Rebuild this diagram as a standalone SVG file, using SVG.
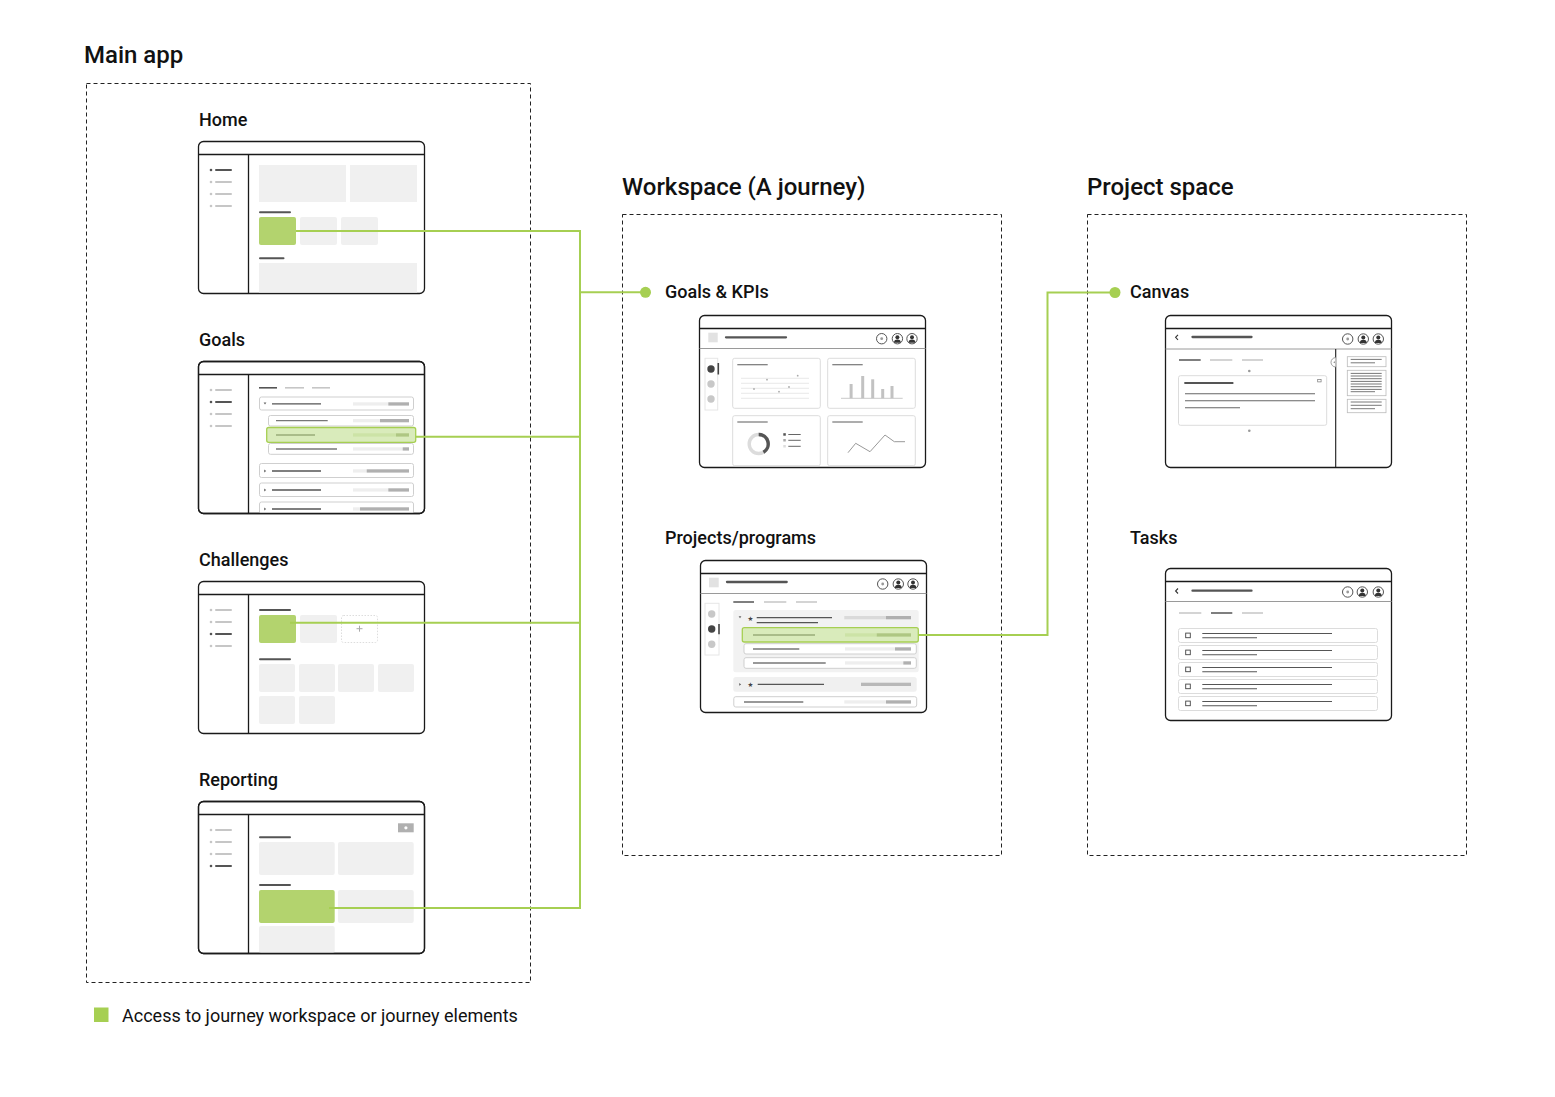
<svg xmlns="http://www.w3.org/2000/svg" width="1555" height="1097" viewBox="0 0 1555 1097">
<style>
.t{font-family:Roboto,"Liberation Sans",sans-serif;fill:#111}
.title{font-size:24px;font-weight:500}
.lbl{font-size:18px;font-weight:500}
.leg{font-size:18px;font-weight:400}
.box{fill:none;stroke:#222;stroke-width:1;stroke-dasharray:4 3}
.frame{fill:#fff;stroke:#1a1a1a;stroke-width:1.3}
.fl{stroke:#1a1a1a;stroke-width:1.3;fill:none}
.tb{stroke:#9a9a9a;stroke-width:1;fill:none}
.dl{stroke:#555;stroke-width:2;stroke-linecap:round}
.ll{stroke:#c6c6c6;stroke-width:2;stroke-linecap:round}
.ml{stroke:#777;stroke-width:1.5}
.gf{fill:#f0f0f0}
.green{fill:#b3d36e}
.row{fill:#fff;stroke:#cfcfcf;stroke-width:1}
.card{fill:#fff;stroke:#dcdcdc;stroke-width:1}
.conn{fill:none;stroke:#a6cf52;stroke-width:2}
.dot{fill:#a6cf52}
.bl{fill:#eee}
.bd{fill:#b0b0b0}
.thin{stroke:#555;stroke-width:1}
</style>
<defs>
<g id="icoDot"><circle r="5.2" fill="#fff" stroke="#555" stroke-width="1"/><circle r="1.4" fill="#999"/></g>
<g id="icoUser"><circle r="5.2" fill="#fff" stroke="#555" stroke-width="1"/><circle cy="-1.5" r="2" fill="#333"/><path d="M-3.4 4 A3.4 3.2 0 0 1 3.4 4 Z" fill="#333"/></g>
</defs>

<!-- Containers -->
<g id="main-app">
<text class="t title" x="84" y="63">Main app</text>
<rect class="box" x="86.5" y="83.5" width="444" height="899"/>
</g>
<g id="workspace">
<text class="t title" x="622" y="195">Workspace (A journey)</text>
<rect class="box" x="622.5" y="214.5" width="379" height="641"/>
</g>
<g id="project-space">
<text class="t title" x="1087" y="195">Project space</text>
<rect class="box" x="1087.5" y="214.5" width="379" height="641"/>
</g>

<!-- Home -->
<g id="home">
<text class="t lbl" x="199" y="126">Home</text>
<rect class="frame" x="198.5" y="141.5" width="226" height="152" rx="5"/>
<path class="fl" d="M198.5 154.5H424.5M248.5 154.5V293.5"/>
<circle cx="211" cy="170" r="1.3" fill="#555"/><line class="dl" x1="216" y1="170" x2="231" y2="170"/>
<circle cx="211" cy="182" r="1.3" fill="#c6c6c6"/><line class="ll" x1="216" y1="182" x2="231" y2="182"/>
<circle cx="211" cy="194" r="1.3" fill="#c6c6c6"/><line class="ll" x1="216" y1="194" x2="231" y2="194"/>
<circle cx="211" cy="206" r="1.3" fill="#c6c6c6"/><line class="ll" x1="216" y1="206" x2="231" y2="206"/>
<rect class="gf" x="259" y="165" width="87" height="37"/>
<rect class="gf" x="350" y="165" width="67" height="37"/>
<line class="dl" x1="260" y1="212.3" x2="290" y2="212.3"/>
<rect class="green" x="259" y="217" width="37" height="28" rx="2"/>
<rect class="gf" x="300" y="217" width="37" height="28" rx="2"/>
<rect class="gf" x="341" y="217" width="37" height="28" rx="2"/>
<line class="dl" x1="260" y1="258.3" x2="283.5" y2="258.3"/>
<rect class="gf" x="259" y="263" width="158" height="29.5"/>
</g>

<!-- Goals -->
<g id="goals">
<text class="t lbl" x="199" y="346">Goals</text>
<rect class="frame" x="198.5" y="361.5" width="226" height="152" rx="5"/>
<circle cx="211" cy="390" r="1.3" fill="#c6c6c6"/><line class="ll" x1="216" y1="390" x2="231" y2="390"/>
<circle cx="211" cy="402" r="1.3" fill="#555"/><line class="dl" x1="216" y1="402" x2="231" y2="402"/>
<circle cx="211" cy="414" r="1.3" fill="#c6c6c6"/><line class="ll" x1="216" y1="414" x2="231" y2="414"/>
<circle cx="211" cy="426" r="1.3" fill="#c6c6c6"/><line class="ll" x1="216" y1="426" x2="231" y2="426"/>
<line x1="259" y1="387.8" x2="277" y2="387.8" stroke="#555" stroke-width="1.6"/>
<line x1="285" y1="387.8" x2="304" y2="387.8" stroke="#c6c6c6" stroke-width="1.6"/>
<line x1="312" y1="387.8" x2="330" y2="387.8" stroke="#c6c6c6" stroke-width="1.6"/>
<rect class="row" x="259.5" y="397" width="154" height="13" rx="2"/>
<polygon points="263.6,402.6 266.4,402.6 265,404.6" fill="#666"/>
<line x1="272" y1="403.9" x2="321" y2="403.9" stroke="#555" stroke-width="1.3"/>
<rect class="bl" x="353" y="402.3" width="35.3" height="3.3"/><rect class="bd" x="388.3" y="402.3" width="20.7" height="3.3"/>
<rect class="row" x="268.5" y="415.5" width="145" height="10.5" rx="2"/>
<line x1="276" y1="420.7" x2="327.7" y2="420.7" stroke="#777" stroke-width="1.3"/>
<rect class="bl" x="353" y="419" width="27" height="3.3"/><rect class="bd" x="380" y="419" width="29" height="3.3"/>
<rect class="row" x="268.5" y="443.5" width="145" height="10.8" rx="2"/>
<line x1="276" y1="449" x2="337" y2="449" stroke="#777" stroke-width="1.3"/>
<rect class="bl" x="353" y="447.3" width="49.7" height="3.3"/><rect class="bd" x="402.7" y="447.3" width="6.3" height="3.3"/>
<rect class="row" x="259.5" y="463.5" width="154" height="14" rx="2"/>
<polygon points="264.2,469.6 266.2,471 264.2,472.4" fill="#666"/>
<line x1="272" y1="471" x2="321" y2="471" stroke="#555" stroke-width="1.3"/>
<rect class="bl" x="353" y="469.3" width="13.7" height="3.3"/><rect class="bd" x="366.7" y="469.3" width="42.3" height="3.3"/>
<rect class="row" x="259.5" y="483" width="154" height="13.5" rx="2"/>
<polygon points="264.2,488.6 266.2,490 264.2,491.4" fill="#666"/>
<line x1="272" y1="490" x2="321" y2="490" stroke="#555" stroke-width="1.3"/>
<rect class="bl" x="353" y="488.3" width="35.3" height="3.3"/><rect class="bd" x="388.3" y="488.3" width="20.7" height="3.3"/>
<path class="row" d="M259.5 513V504a2 2 0 0 1 2-2H411.5a2 2 0 0 1 2 2V513"/>
<polygon points="264.2,507.6 266.2,509 264.2,510.4" fill="#666"/>
<line x1="272" y1="509" x2="321" y2="509" stroke="#555" stroke-width="1.3"/>
<rect class="bl" x="353" y="507.3" width="7" height="3.3"/><rect class="bd" x="360" y="507.3" width="49" height="3.3"/>
<rect x="266.7" y="427.5" width="149" height="14.8" rx="2" fill="#d9ebbb" stroke="#a6cf52" stroke-width="1.3"/>
<line x1="276" y1="435" x2="315" y2="435" stroke="#98ad78" stroke-width="1.3"/>
<rect x="353" y="433.3" width="43" height="3.3" fill="#cce3a6"/><rect x="396" y="433.3" width="13" height="3.3" fill="#aec782"/>
<path class="fl" d="M198.5 374.5H424.5M248.5 374.5V513.5"/>
<rect x="198.5" y="361.5" width="226" height="152" rx="5" class="fl"/>
</g>

<!-- Challenges -->
<g id="challenges">
<text class="t lbl" x="199" y="566">Challenges</text>
<rect class="frame" x="198.5" y="581.5" width="226" height="152" rx="5"/>
<path class="fl" d="M198.5 594.5H424.5M248.5 594.5V733.5"/>
<circle cx="211" cy="610" r="1.3" fill="#c6c6c6"/><line class="ll" x1="216" y1="610" x2="231" y2="610"/>
<circle cx="211" cy="622" r="1.3" fill="#c6c6c6"/><line class="ll" x1="216" y1="622" x2="231" y2="622"/>
<circle cx="211" cy="634" r="1.3" fill="#555"/><line class="dl" x1="216" y1="634" x2="231" y2="634"/>
<circle cx="211" cy="646" r="1.3" fill="#c6c6c6"/><line class="ll" x1="216" y1="646" x2="231" y2="646"/>
<line class="dl" x1="260" y1="610" x2="290" y2="610"/>
<rect class="green" x="259" y="615" width="37" height="28" rx="2"/>
<rect class="gf" x="300" y="615" width="37" height="28" rx="2"/>
<rect x="341.5" y="615.5" width="36" height="27" rx="2" fill="none" stroke="#ddd" stroke-width="1" stroke-dasharray="1.5 1.5"/>
<path d="M356.5 628.7h6M359.5 625.7v6" stroke="#aaa" stroke-width="1"/>
<line class="dl" x1="260" y1="659.3" x2="290" y2="659.3"/>
<rect class="gf" x="259" y="664" width="36" height="28" rx="2"/>
<rect class="gf" x="299" y="664" width="36" height="28" rx="2"/>
<rect class="gf" x="338" y="664" width="36" height="28" rx="2"/>
<rect class="gf" x="378" y="664" width="36" height="28" rx="2"/>
<rect class="gf" x="259" y="696" width="36" height="28" rx="2"/>
<rect class="gf" x="299" y="696" width="36" height="28" rx="2"/>
</g>

<!-- Reporting -->
<g id="reporting">
<text class="t lbl" x="199" y="786">Reporting</text>
<rect class="frame" x="198.5" y="801.5" width="226" height="152" rx="5"/>
<circle cx="211" cy="830" r="1.3" fill="#c6c6c6"/><line class="ll" x1="216" y1="830" x2="231" y2="830"/>
<circle cx="211" cy="842" r="1.3" fill="#c6c6c6"/><line class="ll" x1="216" y1="842" x2="231" y2="842"/>
<circle cx="211" cy="854" r="1.3" fill="#c6c6c6"/><line class="ll" x1="216" y1="854" x2="231" y2="854"/>
<circle cx="211" cy="866" r="1.3" fill="#555"/><line class="dl" x1="216" y1="866" x2="231" y2="866"/>
<rect x="398" y="823.3" width="15.7" height="9" fill="#b0b0b0"/>
<circle cx="405.9" cy="827.8" r="1.6" fill="#fff"/>
<line class="dl" x1="260" y1="837.3" x2="290" y2="837.3"/>
<rect class="gf" x="259" y="842" width="75.7" height="33" rx="2"/>
<rect class="gf" x="338" y="842" width="75.7" height="33" rx="2"/>
<line class="dl" x1="260" y1="885" x2="290" y2="885"/>
<rect class="green" x="259" y="890" width="75.7" height="33" rx="2"/>
<rect class="gf" x="338" y="890" width="75.7" height="33" rx="2"/>
<rect class="gf" x="259" y="926" width="75.7" height="27" rx="2"/>
<path class="fl" d="M198.5 814.5H424.5M248.5 814.5V953.5"/>
<rect x="198.5" y="801.5" width="226" height="152" rx="5" class="fl"/>
</g>

<!-- Goals & KPIs -->
<g id="goals-kpis">
<text class="t lbl" x="665" y="297.5">Goals &amp; KPIs</text>
<rect class="frame" x="699.5" y="315.5" width="226" height="152" rx="5"/>
<path class="fl" d="M699.5 328.5H925.5"/>
<path class="tb" d="M699.5 348.5H925.5"/>
<rect x="708.3" y="332.7" width="9.4" height="9.6" fill="#e2e2e2"/>
<line x1="726" y1="337.3" x2="786" y2="337.3" stroke="#555" stroke-width="2.3" stroke-linecap="round"/>
<use href="#icoDot" x="881.7" y="338.7"/>
<use href="#icoUser" x="897.4" y="338.7"/>
<use href="#icoUser" x="912" y="338.7"/>
<rect x="705" y="358.3" width="12.7" height="51.7" fill="none" stroke="#e6e6e6" stroke-width="1"/>
<circle cx="711" cy="369" r="3.7" fill="#444"/>
<circle cx="711" cy="384" r="3.7" fill="#c8c8c8"/>
<circle cx="711" cy="399" r="3.7" fill="#c8c8c8"/>
<line x1="718.3" y1="363" x2="718.3" y2="374.5" stroke="#444" stroke-width="1.6"/>
<rect class="card" x="732.7" y="358.3" width="87.6" height="50" rx="2"/>
<rect class="card" x="827.7" y="358.3" width="87.6" height="50" rx="2"/>
<rect class="card" x="732.7" y="415.7" width="87.6" height="50" rx="2"/>
<rect class="card" x="827.7" y="415.7" width="87.6" height="50" rx="2"/>
<g stroke="#777" stroke-width="1.2">
<line x1="737.3" y1="364.7" x2="767.7" y2="364.7"/>
<line x1="832.3" y1="364.7" x2="862.7" y2="364.7"/>
<line x1="737.3" y1="422" x2="767.7" y2="422"/>
<line x1="832.3" y1="422" x2="862.7" y2="422"/>
</g>
<g stroke="#e2e2e2" stroke-width="0.8">
<line x1="741" y1="378.3" x2="809" y2="378.3"/>
<line x1="741" y1="383.3" x2="809" y2="383.3"/>
<line x1="741" y1="388.3" x2="809" y2="388.3"/>
<line x1="741" y1="393.3" x2="809" y2="393.3"/>
<line x1="741" y1="398.3" x2="809" y2="398.3"/>
</g>
<g fill="#aaa">
<circle cx="767" cy="379.7" r="0.9"/><circle cx="754" cy="389" r="0.9"/><circle cx="779" cy="391.7" r="0.9"/><circle cx="789" cy="387" r="0.9"/><circle cx="797.7" cy="375.7" r="0.9"/>
</g>
<line x1="841" y1="398.3" x2="902.7" y2="398.3" stroke="#bbb" stroke-width="0.8"/>
<g fill="#c2c2c2">
<rect x="849.6" y="384" width="3" height="14.3"/>
<rect x="861.2" y="376" width="3" height="22.3"/>
<rect x="871.2" y="379.3" width="3" height="19"/>
<rect x="881.2" y="389" width="3" height="9.3"/>
<rect x="890.5" y="386" width="3" height="12.3"/>
</g>
<circle cx="758.7" cy="444" r="9.5" fill="none" stroke="#dcdcdc" stroke-width="3.4"/>
<path d="M758.7 434.5A9.5 9.5 0 0 1 763.45 452.23" fill="none" stroke="#555" stroke-width="3.4"/>
<rect x="783.3" y="433.2" width="2.5" height="2.5" fill="#555"/>
<rect x="783.3" y="439" width="2.5" height="2.5" fill="#aaa"/>
<rect x="783.3" y="445" width="2.5" height="2.5" fill="#ddd"/>
<g stroke="#555" stroke-width="0.9">
<line x1="788.3" y1="434.5" x2="800.7" y2="434.5"/>
<line x1="788.3" y1="440.3" x2="800.7" y2="440.3"/>
<line x1="788.3" y1="446.3" x2="800.7" y2="446.3"/>
</g>
<polyline points="848,452.7 855.7,443.3 870,451.7 885,435 894.3,441.7 905,441.7" fill="none" stroke="#999" stroke-width="1"/>
</g>

<!-- Projects/programs -->
<g id="projects">
<text class="t lbl" x="665" y="544">Projects/programs</text>
<rect class="frame" x="700.5" y="560.5" width="226" height="152" rx="5"/>
<path class="fl" d="M700.5 573.5H926.5"/>
<path class="tb" d="M700.5 593.5H926.5"/>
<rect x="709" y="577.7" width="9.7" height="9.6" fill="#e2e2e2"/>
<line x1="727" y1="582" x2="786.7" y2="582" stroke="#555" stroke-width="2.3" stroke-linecap="round"/>
<use href="#icoDot" x="882.7" y="584"/>
<use href="#icoUser" x="898.3" y="584"/>
<use href="#icoUser" x="913" y="584"/>
<rect x="705" y="603.3" width="14" height="51.7" fill="none" stroke="#e6e6e6" stroke-width="1"/>
<circle cx="711.7" cy="614" r="3.7" fill="#c8c8c8"/>
<circle cx="711.7" cy="629" r="3.7" fill="#444"/>
<circle cx="711.7" cy="644.3" r="3.7" fill="#c8c8c8"/>
<line x1="719" y1="624" x2="719" y2="634.3" stroke="#444" stroke-width="1.6"/>
<line x1="733.3" y1="602" x2="754" y2="602" stroke="#555" stroke-width="1.5"/>
<line x1="764" y1="602" x2="786.3" y2="602" stroke="#c6c6c6" stroke-width="1.5"/>
<line x1="796" y1="602" x2="817" y2="602" stroke="#c6c6c6" stroke-width="1.5"/>
<rect x="733.3" y="610" width="185.4" height="62.3" rx="2.5" fill="#f2f2f2"/>
<polygon points="738.6,616.3 741.4,616.3 740,618.3" fill="#666"/>
<text x="750.3" y="620.5" font-family="DejaVu Sans,sans-serif" font-size="6.5" fill="#444" text-anchor="middle">★</text>
<line x1="756.7" y1="617.7" x2="832" y2="617.7" stroke="#555" stroke-width="1.3"/>
<line x1="756.7" y1="622.7" x2="818" y2="622.7" stroke="#555" stroke-width="1.3"/>
<rect x="844.3" y="616" width="41.7" height="3.3" fill="#dadada"/><rect x="886" y="616" width="25" height="3.3" fill="#b0b0b0"/>
<rect class="row" x="744" y="643.7" width="172.3" height="10.3" rx="2"/>
<line x1="753" y1="649" x2="799.3" y2="649" stroke="#777" stroke-width="1.3"/>
<rect class="bl" x="845" y="647.3" width="50" height="3.3"/><rect class="bd" x="895" y="647.3" width="16" height="3.3"/>
<rect class="row" x="744" y="657.7" width="172.3" height="10.6" rx="2"/>
<line x1="753" y1="663" x2="825.7" y2="663" stroke="#777" stroke-width="1.3"/>
<rect class="bl" x="845" y="661.3" width="58.3" height="3.3"/><rect class="bd" x="903.3" y="661.3" width="7.7" height="3.3"/>
<rect x="742.3" y="627.7" width="176" height="14.3" rx="2" fill="#d9ebbb" stroke="#a6cf52" stroke-width="1.3"/>
<line x1="753" y1="635" x2="815" y2="635" stroke="#98ad78" stroke-width="1.3"/>
<rect x="845" y="633.3" width="31.7" height="3.3" fill="#cce3a6"/><rect x="876.7" y="633.3" width="34.3" height="3.3" fill="#aec782"/>
<rect x="733.3" y="677" width="183.4" height="14.7" rx="2.5" fill="#f0f0f0"/>
<polygon points="739.2,683 741.2,684.4 739.2,685.8" fill="#666"/>
<text x="750.3" y="686.8" font-family="DejaVu Sans,sans-serif" font-size="6.5" fill="#444" text-anchor="middle">★</text>
<line x1="757.7" y1="684.4" x2="824" y2="684.4" stroke="#555" stroke-width="1.3"/>
<rect x="861" y="682.7" width="50" height="3.3" fill="#b8b8b8"/>
<rect class="row" x="733.8" y="696.7" width="182.9" height="10.3" rx="2"/>
<line x1="744" y1="702" x2="803.3" y2="702" stroke="#777" stroke-width="1.3"/>
<rect class="bl" x="844.3" y="700.3" width="41.7" height="3.3"/><rect class="bd" x="886" y="700.3" width="25" height="3.3"/>
</g>

<!-- Canvas -->
<g id="canvas">
<text class="t lbl" x="1130" y="297.5">Canvas</text>
<rect class="frame" x="1165.5" y="315.5" width="226" height="152" rx="5"/>
<path class="fl" d="M1165.5 328.5H1391.5"/>
<path class="tb" d="M1165.5 349H1391.5"/>
<path d="M1178 334.8l-2.4 2.5 2.4 2.5" fill="none" stroke="#333" stroke-width="1.1"/>
<line x1="1192.5" y1="337" x2="1251.5" y2="337" stroke="#555" stroke-width="2.3" stroke-linecap="round"/>
<use href="#icoDot" x="1347.7" y="339"/>
<use href="#icoUser" x="1363.3" y="339"/>
<use href="#icoUser" x="1378.3" y="339"/>
<line x1="1335.7" y1="349" x2="1335.7" y2="467" stroke="#1a1a1a" stroke-width="1.1"/>
<path d="M1335.7 357.6a4.6 4.6 0 0 0 0 9.4" fill="#fff" stroke="#888" stroke-width="0.8"/>
<polygon points="1334.8,361.3 1333.3,362.3 1334.8,363.3" fill="#777"/>
<line x1="1179" y1="360" x2="1200.7" y2="360" stroke="#555" stroke-width="1.5"/>
<line x1="1210" y1="360" x2="1232.3" y2="360" stroke="#c6c6c6" stroke-width="1.5"/>
<line x1="1242" y1="360" x2="1263" y2="360" stroke="#c6c6c6" stroke-width="1.5"/>
<circle cx="1249.3" cy="371" r="1.3" fill="#999"/>
<circle cx="1249.3" cy="430.7" r="1.3" fill="#999"/>
<rect class="card" x="1178.5" y="375.7" width="148.2" height="49.6" rx="2"/>
<line x1="1185" y1="383" x2="1232.7" y2="383" stroke="#555" stroke-width="1.8" stroke-linecap="round"/>
<rect x="1317.7" y="379.5" width="3.4" height="2.4" fill="none" stroke="#777" stroke-width="0.7"/>
<g stroke="#666" stroke-width="1.1">
<line x1="1185" y1="393.7" x2="1315" y2="393.7"/>
<line x1="1185" y1="400.7" x2="1315" y2="400.7"/>
<line x1="1185" y1="407.7" x2="1240" y2="407.7"/>
</g>
<rect x="1347.3" y="356.7" width="38.7" height="10" fill="#fff" stroke="#bbb" stroke-width="0.8"/>
<rect x="1347.3" y="370.3" width="38.7" height="25.4" fill="#fff" stroke="#bbb" stroke-width="0.8"/>
<rect x="1347.3" y="399.3" width="38.7" height="13.4" fill="#fff" stroke="#bbb" stroke-width="0.8"/>
<g stroke="#555" stroke-width="0.8">
<line x1="1350.7" y1="359.4" x2="1381.7" y2="359.4"/>
<line x1="1350.7" y1="362.8" x2="1375" y2="362.8"/>
<line x1="1350.7" y1="373.4" x2="1381.7" y2="373.4"/>
<line x1="1350.7" y1="376" x2="1381.7" y2="376"/>
<line x1="1350.7" y1="378.7" x2="1381.7" y2="378.7"/>
<line x1="1350.7" y1="381.4" x2="1381.7" y2="381.4"/>
<line x1="1350.7" y1="384" x2="1381.7" y2="384"/>
<line x1="1350.7" y1="386.7" x2="1381.7" y2="386.7"/>
<line x1="1350.7" y1="389.4" x2="1381.7" y2="389.4"/>
<line x1="1350.7" y1="391.7" x2="1375" y2="391.7"/>
<line x1="1350.7" y1="402" x2="1381.7" y2="402"/>
<line x1="1350.7" y1="405.3" x2="1381.7" y2="405.3"/>
<line x1="1350.7" y1="408.7" x2="1375" y2="408.7"/>
</g>
</g>

<!-- Tasks -->
<g id="tasks">
<text class="t lbl" x="1130" y="544">Tasks</text>
<rect class="frame" x="1165.5" y="568.5" width="226" height="152" rx="5"/>
<path class="fl" d="M1165.5 581.5H1391.5"/>
<path class="tb" d="M1165.5 601.5H1391.5"/>
<path d="M1178 588.5l-2.4 2.5 2.4 2.5" fill="none" stroke="#333" stroke-width="1.1"/>
<line x1="1192.5" y1="590.7" x2="1251.5" y2="590.7" stroke="#555" stroke-width="2.3" stroke-linecap="round"/>
<use href="#icoDot" x="1347.7" y="592"/>
<use href="#icoUser" x="1362.3" y="592"/>
<use href="#icoUser" x="1378.3" y="592"/>
<line x1="1179" y1="613" x2="1201.3" y2="613" stroke="#c6c6c6" stroke-width="1.5"/>
<line x1="1211" y1="613" x2="1232.3" y2="613" stroke="#555" stroke-width="1.5"/>
<line x1="1242" y1="613" x2="1263" y2="613" stroke="#c6c6c6" stroke-width="1.5"/>
<g>
<rect class="card" x="1178.5" y="628.5" width="199" height="14" rx="2"/>
<rect class="card" x="1178.5" y="645.5" width="199" height="14" rx="2"/>
<rect class="card" x="1178.5" y="662.5" width="199" height="14" rx="2"/>
<rect class="card" x="1178.5" y="679.5" width="199" height="14" rx="2"/>
<rect class="card" x="1178.5" y="696.5" width="199" height="14" rx="2"/>
</g>
<g fill="none" stroke="#444" stroke-width="0.9">
<rect x="1185.7" y="633.1" width="4.6" height="4.6"/>
<rect x="1185.7" y="650.1" width="4.6" height="4.6"/>
<rect x="1185.7" y="667.1" width="4.6" height="4.6"/>
<rect x="1185.7" y="684.1" width="4.6" height="4.6"/>
<rect x="1185.7" y="701.1" width="4.6" height="4.6"/>
</g>
<g stroke="#555" stroke-width="1.1">
<line x1="1202.3" y1="633.5" x2="1332" y2="633.5"/><line x1="1202.3" y1="637.8" x2="1257" y2="637.8"/>
<line x1="1202.3" y1="650.5" x2="1332" y2="650.5"/><line x1="1202.3" y1="654.8" x2="1257" y2="654.8"/>
<line x1="1202.3" y1="667.5" x2="1332" y2="667.5"/><line x1="1202.3" y1="671.8" x2="1257" y2="671.8"/>
<line x1="1202.3" y1="684.5" x2="1332" y2="684.5"/><line x1="1202.3" y1="688.8" x2="1257" y2="688.8"/>
<line x1="1202.3" y1="701.5" x2="1332" y2="701.5"/><line x1="1202.3" y1="705.8" x2="1257" y2="705.8"/>
</g>
</g>

<!-- Connectors -->
<g id="connectors">
<path class="conn" d="M296 231H580V908H329"/>
<path class="conn" d="M415.7 436.7H580"/>
<path class="conn" d="M290 622.7H580"/>
<path class="conn" d="M580 292.3H645"/>
<circle class="dot" cx="645.5" cy="292.3" r="5.5"/>
<path class="conn" d="M918.3 635H1047.5V292.5H1115"/>
<circle class="dot" cx="1115" cy="292.5" r="5.5"/>
</g>

<!-- Legend -->
<g id="legend">
<rect x="94" y="1007.5" width="14.5" height="14.5" fill="#a6cf52"/>
<text class="t leg" x="122" y="1021.5">Access to journey workspace or journey elements</text>
</g>
</svg>
